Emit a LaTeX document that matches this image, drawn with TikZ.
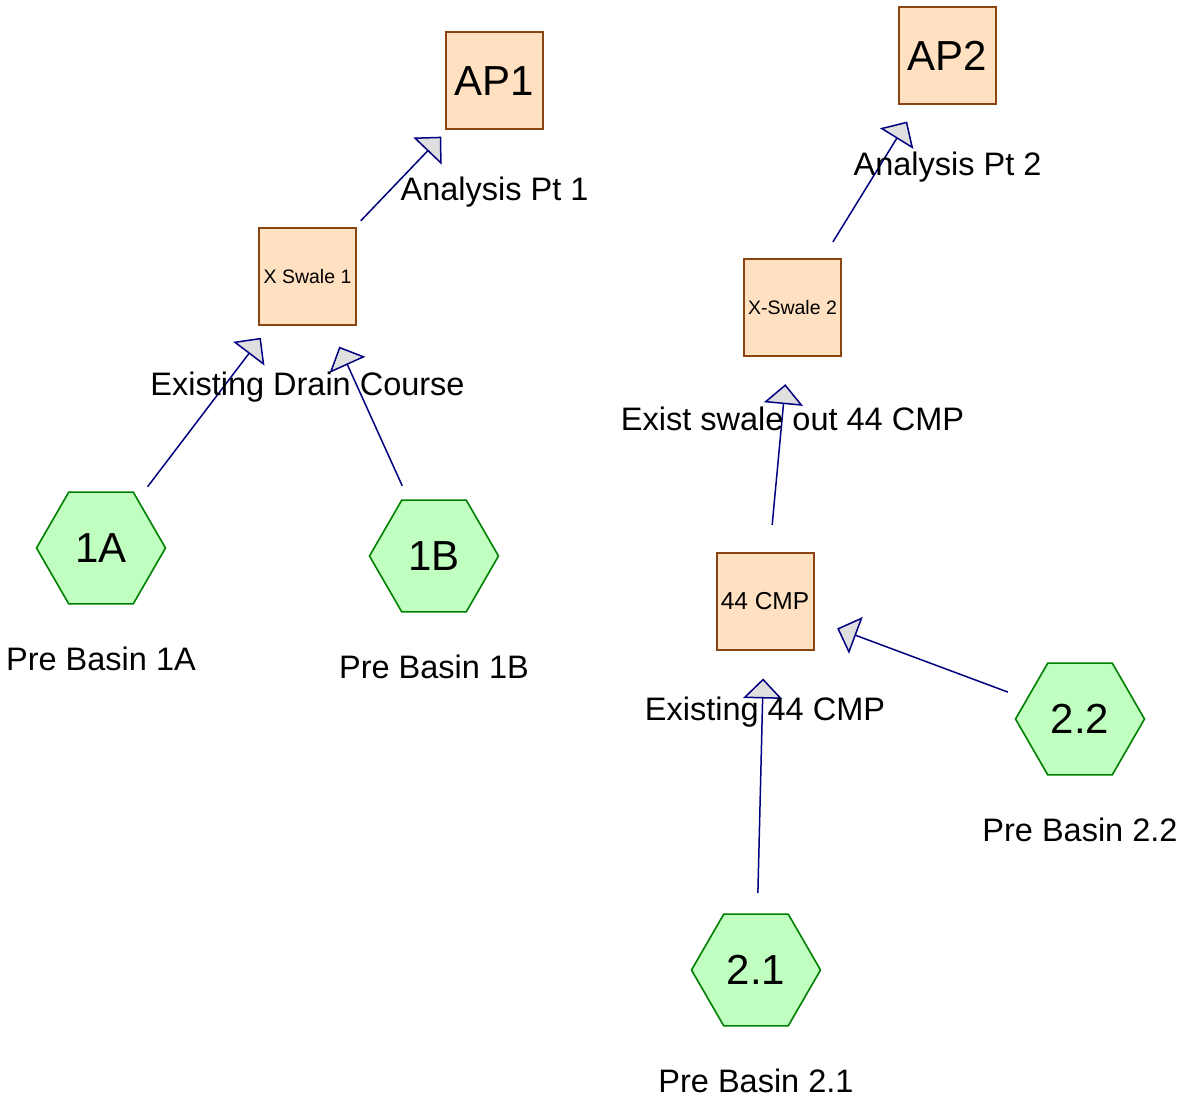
\documentclass[tikz,border=0pt]{standalone}
\usepackage{fontspec}
\setmainfont{Liberation Sans}
\usetikzlibrary{shapes.geometric,arrows.meta}

\definecolor{pitfill}{RGB}{255,224,193}
\definecolor{pitdraw}{RGB}{139,69,19}
\definecolor{basinfill}{RGB}{192,255,192}
\definecolor{basindraw}{RGB}{0,128,0}
\definecolor{flownavy}{RGB}{0,0,128}

\tikzset{
    pit/.style={draw=pitdraw, fill=pitfill, line width=2pt, rectangle,
        minimum size=97pt, inner sep=0pt, outer sep=0pt},
    basin/.style={draw=basindraw, fill=basinfill, line width=1.6pt,
        regular polygon, regular polygon sides=6, minimum size=129pt,
        inner sep=0pt, outer sep=0pt, font=\fontsize{42}{42}\selectfont},
    lbl/.style={inner sep=0pt, font=\fontsize{32.5}{32.5}\selectfont},
    flow/.style={draw=flownavy, line width=1.5pt, line join=miter,
        -{Triangle[length=20pt, width=39pt, fill=gray!25]},
        shorten <=77pt, shorten >=77pt}
}

\begin{document}
\begin{tikzpicture}[x=1pt, y=-1pt]
    \useasboundingbox (0,0) rectangle (1186,1099);

    % 分析点
    \node[pit, font=\fontsize{42}{42}\selectfont] (ap1) at (494.5,81) {\raisebox{-2pt}{AP1}};
    \node[pit, font=\fontsize{42}{42}\selectfont] (ap2) at (947.5,56) {\raisebox{-2pt}{AP2}};

    % 沟渠与涵管
    \node[pit, font=\fontsize{19.5}{19.5}\selectfont] (xs1) at (307.5,276.5) {X Swale 1};
    \node[pit, font=\fontsize{19.5}{19.5}\selectfont] (xs2) at (792.5,307.5) {X-Swale 2};
    \node[pit, font=\fontsize{24.5}{24.5}\selectfont] (cmp44) at (765,601.5) {\raisebox{-1pt}{44 CMP}};

    % 流域
    \node[basin] (b1a) at (101,548) {\raisebox{-3pt}{1A}};
    \node[basin] (b1b) at (434,556) {\raisebox{-3pt}{1B}};
    \node[basin] (b22) at (1080,719) {\raisebox{-3pt}{2.2}};
    \node[basin] (b21) at (756,970) {\raisebox{-3pt}{2.1}};

    % 连接线
    \draw[flow] (xs1.center) -- (ap1.center);
    \draw[flow] (b1a.center) -- (xs1.center);
    \draw[flow] (b1b.center) -- (xs1.center);
    \draw[flow] (xs2.center) -- (ap2.center);
    \draw[flow] (cmp44.center) -- (xs2.center);
    \draw[flow] (b22.center) -- (cmp44.center);
    \draw[flow] (b21.center) -- (cmp44.center);

    % 标注
    \node[lbl] (ap1-l) at ([yshift=-111pt]ap1.center) {Analysis Pt 1};
    \node[lbl] (ap2-l) at ([yshift=-111pt]ap2.center) {Analysis Pt 2};
    \node[lbl] (xs1-l) at ([yshift=-111pt]xs1.center) {Existing Drain Course};
    \node[lbl] (xs2-l) at ([yshift=-111pt]xs2.center) {Exist swale out 44 CMP};
    \node[lbl] (cmp44-l) at ([yshift=-111pt]cmp44.center) {Existing 44 CMP};
    \node[lbl] (b1a-l) at ([yshift=-111pt]b1a.center) {Pre Basin 1A};
    \node[lbl] (b1b-l) at ([yshift=-111pt]b1b.center) {Pre Basin 1B};
    \node[lbl] (b22-l) at ([yshift=-111pt]b22.center) {Pre Basin 2.2};
    \node[lbl] (b21-l) at ([yshift=-111pt]b21.center) {Pre Basin 2.1};
\end{tikzpicture}
\end{document}
